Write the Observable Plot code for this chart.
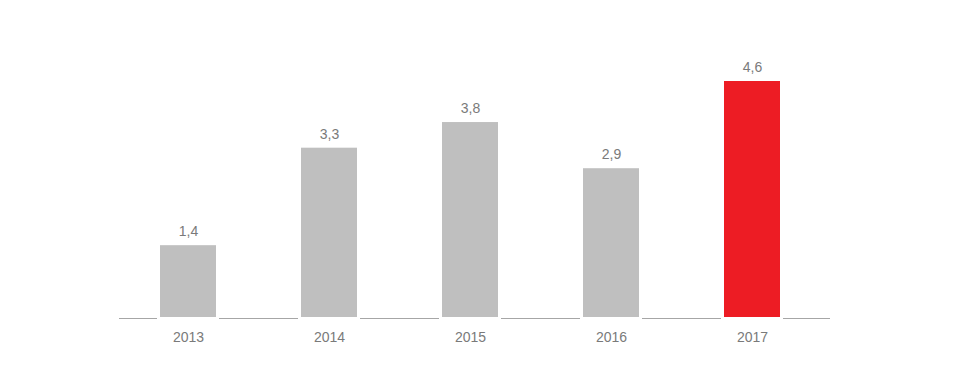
<!DOCTYPE html>
<html>
<head>
<meta charset="utf-8">
<script src="https://cdn.jsdelivr.net/npm/d3@7"></script>
<script src="https://cdn.jsdelivr.net/npm/@observablehq/plot@0.6"></script>
<style>
  html, body { margin: 0; padding: 0; background: #fff; }
  #chart svg { display: block; }
</style>
</head>
<body>
<div id="chart"></div>
<script>
const years = ["2013", "2014", "2015", "2016", "2017"];
const values = [1.4, 3.3, 3.8, 2.9, 4.6];
const highlight = ["2017"];

const data = years.map((y, i) => ({year: y, value: values[i]}));
const fmt = v => v.toFixed(1).replace(".", ",");

const chart = Plot.plot({
  width: 964,
  height: 368,
  marginLeft: 119,
  marginRight: 134,
  marginTop: 81,
  marginBottom: 51,
  style: {fontFamily: "Liberation Sans, Arial, sans-serif", fontSize: "14px", background: "#fff"},
  x: {domain: years, paddingInner: 0.6, paddingOuter: 0.3, insetLeft: -2, insetRight: 7, label: null},
  y: {domain: [0, 4.6], axis: null},
  marks: [
    Plot.ruleY([0], {stroke: "#a6a6a6", strokeWidth: 1, dy: 1}),
    Plot.tickY(data, {x: "year", y: () => 0, stroke: "#fff", strokeWidth: 3, insetLeft: -3, insetRight: -3, dy: 1}),
    Plot.barY(data, {x: "year", y: "value", fill: d => highlight.includes(d.year) ? "#ed1c24" : "#bfbfbf"}),
    Plot.text(data, {x: "year", y: "value", text: d => fmt(d.value), dy: -14, fill: "#7a7a7a", fontSize: 14}),
    Plot.axisX({tickSize: 0, tickPadding: 15, fill: "#7a7a7a", fontSize: 14, label: null})
  ]
});
document.getElementById("chart").appendChild(chart);
</script>
</body>
</html>
